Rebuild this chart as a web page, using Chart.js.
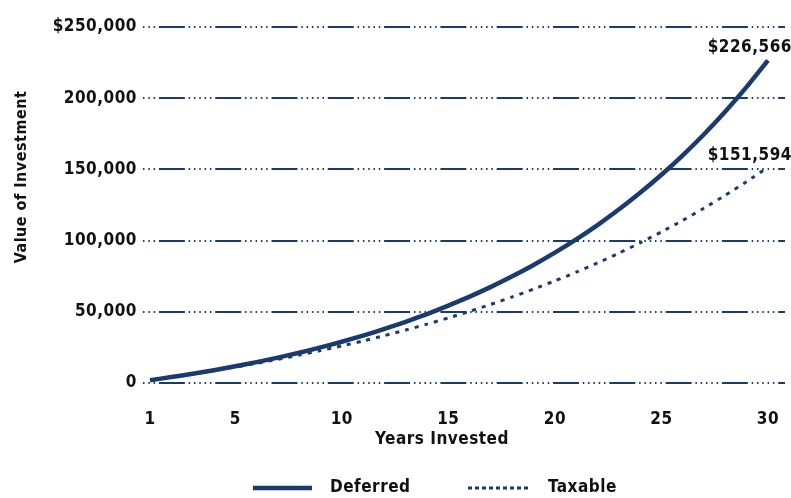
<!DOCTYPE html>
<html>
<head>
<meta charset="utf-8">
<script src="https://cdn.jsdelivr.net/npm/chart.js@4/dist/chart.umd.min.js"></script>
<style>
  body { margin: 0; background: #fff; }
  #wrap { width: 791px; height: 498px; }
</style>
</head>
<body>
<div id="wrap"><canvas id="investment-chart" width="791" height="498"></canvas></div>
<script>
// years invested and account value at year end
const years = [1, 2, 3, 4, 5, 6, 7, 8, 9, 10, 11, 12, 13, 14, 15, 16, 17, 18, 19, 20, 21, 22, 23, 24, 25, 26, 27, 28, 29, 30];
const deferred = [2000, 4160, 6493, 9012, 11733, 14672, 17846, 21273, 24975, 28973, 33291, 37954, 42991, 48430, 54304, 60649, 67500, 74900, 82893, 91524, 100846, 110914, 121787, 133530, 146212, 159909, 174702, 190678, 207932, 226566];
const taxable = [2000, 4115, 6352, 8718, 11220, 13867, 16665, 19625, 22756, 26066, 29568, 33271, 37187, 41329, 45710, 50343, 55243, 60424, 65905, 71701, 77831, 84314, 91171, 98422, 106091, 114202, 122780, 131852, 141447, 151594];
const xTicks = [1, 5, 10, 15, 20, 25, 30];
const yTicks = [0, 50000, 100000, 150000, 200000, 250000];
const yTickLabels = ['0', '50,000', '100,000', '150,000', '200,000', '$250,000'];

const NAVY = '#1b3b6f';
const FONT = "'DejaVu Sans Condensed', 'Liberation Sans Narrow', sans-serif";
const canvas = document.getElementById('investment-chart');

function points(values) {
    return values.map(function (v, i) { return { x: years[i], y: v }; });
}

function money(v) {
    return '$' + v.toLocaleString('en-US');
}

// end labels, axis titles and the legend along the bottom
const extras = {
    id: 'extras',
    beforeDraw: function (chart) {
        chart.ctx.letterSpacing = '0.5px';
    },
    afterDraw: function (chart) {
        const ctx = chart.ctx;
        ctx.save();
        ctx.fillStyle = '#111';
        ctx.font = 'bold 17px ' + FONT;
        ctx.textBaseline = 'middle';

        // value at the last year of each series
        chart.data.datasets.forEach(function (ds, i) {
            const meta = chart.getDatasetMeta(i);
            const last = meta.data[meta.data.length - 1];
            const value = ds.data[ds.data.length - 1].y;
            ctx.textAlign = 'right';
            ctx.fillText(money(value), last.x + 24, last.y - ds.labelLift);
        });

        // x axis title
        ctx.textAlign = 'center';
        ctx.fillText('Years Invested', 442, 440);

        // y axis title
        ctx.save();
        ctx.translate(22, 177);
        ctx.rotate(-Math.PI / 2);
        ctx.font = 'bold 16px ' + FONT;
        ctx.fillText('Value of Investment', 0, 0);
        ctx.restore();

        // legend
        const legendY = 488;
        const items = [{ x: 253, w: 59 }, { x: 468, w: 62 }];
        chart.data.datasets.forEach(function (ds, i) {
            const it = items[i];
            ctx.beginPath();
            ctx.strokeStyle = ds.borderColor;
            ctx.lineWidth = ds.borderWidth;
            ctx.setLineDash(ds.borderDash ? [4, 3] : []);
            ctx.moveTo(it.x, legendY);
            ctx.lineTo(it.x + it.w, legendY);
            ctx.stroke();
            ctx.setLineDash([]);
            ctx.textAlign = 'left';
            ctx.fillText(ds.label, it.x + it.w + 18, legendY);
        });
        ctx.restore();
    }
};

new Chart(canvas, {
    type: 'line',
    data: {
        datasets: [{
            label: 'Deferred',
            data: points(deferred),
            borderColor: NAVY,
            borderWidth: 4.5,
            pointRadius: 0,
            tension: 0.2,
            labelLift: 13
        }, {
            label: 'Taxable',
            data: points(taxable),
            borderColor: NAVY,
            borderWidth: 3,
            borderDash: [4, 6],
            pointRadius: 0,
            tension: 0.2,
            labelLift: 12
        }]
    },
    plugins: [extras],
    options: {
        responsive: false,
        animation: false,
        devicePixelRatio: 1,
        layout: { padding: { top: 27, right: 6, bottom: 0, left: 0 } },
        plugins: {
            legend: { display: false },
            tooltip: { enabled: false }
        },
        scales: {
            x: {
                type: 'linear',
                min: 0.67,
                max: 30.8,
                afterBuildTicks: function (scale) {
                    scale.ticks = xTicks.map(function (v) { return { value: v }; });
                },
                afterFit: function (scale) {
                    scale.height = 115;
                    scale.paddingLeft = 0;
                    scale.paddingRight = 0;
                },
                grid: { display: false },
                border: { display: false },
                ticks: {
                    color: '#111',
                    font: { family: FONT, size: 17, weight: 'bold' },
                    padding: 18,
                    maxRotation: 0,
                    autoSkip: false,
                    callback: function (v) { return String(v); }
                }
            },
            y: {
                min: 0,
                max: 250000,
                afterBuildTicks: function (scale) {
                    scale.ticks = yTicks.map(function (v) { return { value: v }; });
                },
                afterFit: function (scale) { scale.width = 143; },
                grid: {
                    color: NAVY,
                    lineWidth: 2,
                    drawTicks: false
                },
                border: {
                    display: false,
                    dash: [1.5, 3.8, 1.5, 3.8, 1.5, 3.8, 26, 3.8, 1.5, 3.8, 1.5, 3.8]
                },
                ticks: {
                    color: '#111',
                    font: { family: FONT, size: 17, weight: 'bold' },
                    padding: 6,
                    callback: function (v, i) { return yTickLabels[i]; }
                }
            }
        }
    }
});
</script>
</body>
</html>
